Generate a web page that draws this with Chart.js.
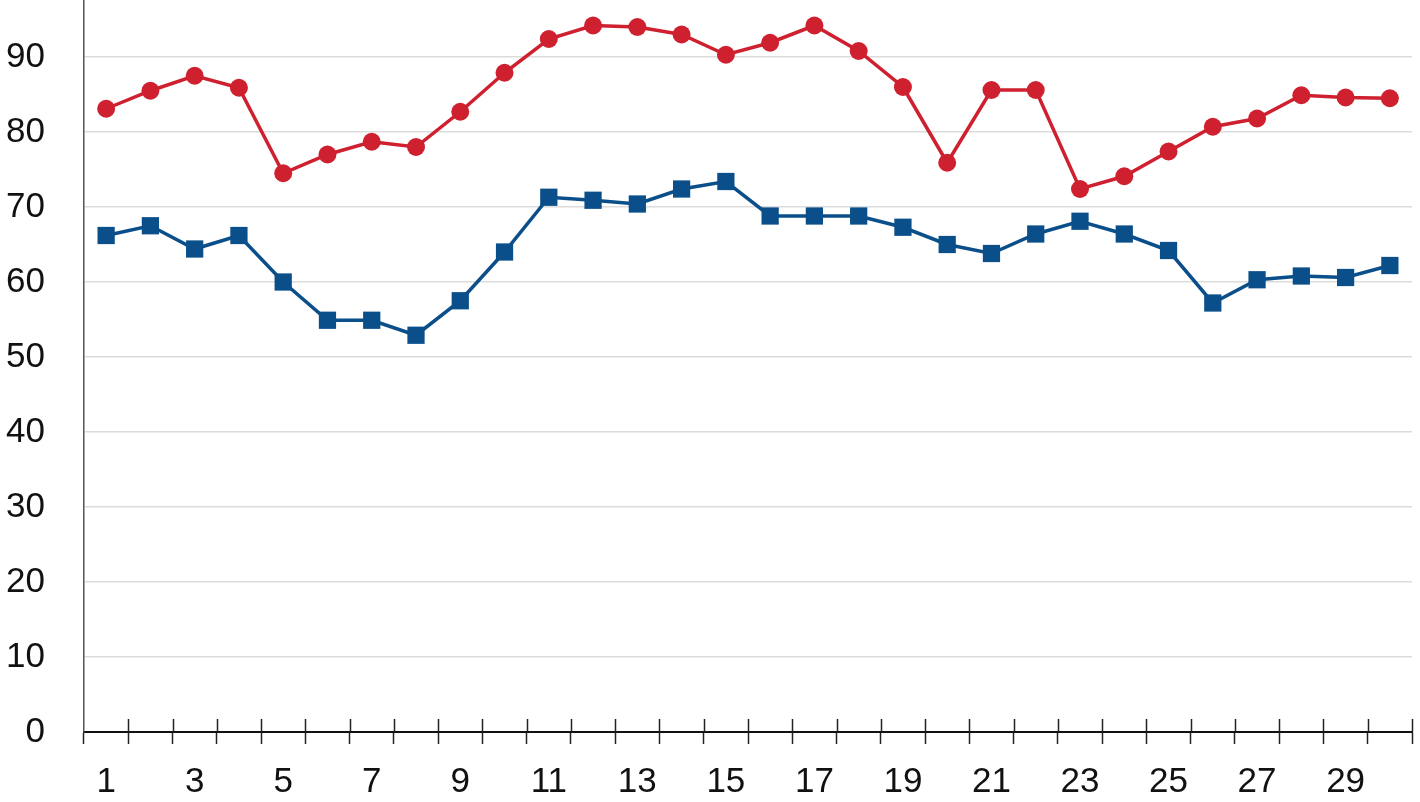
<!DOCTYPE html>
<html>
<head>
<meta charset="utf-8">
<script src="https://cdn.jsdelivr.net/npm/chart.js@4/dist/chart.umd.min.js"></script>
<style>
  html, body { margin: 0; padding: 0; background: #fff; }
  #wrap { width: 1420px; height: 802px; }
</style>
</head>
<body>
<div id="wrap"><canvas id="chart-area"></canvas></div>
<script>
var days = [1, 2, 3, 4, 5, 6, 7, 8, 9, 10, 11, 12, 13, 14, 15,
            16, 17, 18, 19, 20, 21, 22, 23, 24, 25, 26, 27, 28, 29, 30];

var redSeries = [83.1, 85.5, 87.5, 85.9, 74.5, 77.0, 78.7, 78.0, 82.7, 87.9,
                 92.4, 94.2, 94.0, 93.0, 90.3, 91.9, 94.2, 90.8, 86.0, 75.9,
                 85.6, 85.6, 72.4, 74.1, 77.4, 80.7, 81.8, 84.9, 84.6, 84.5];

var blueSeries = [66.2, 67.5, 64.4, 66.2, 60.0, 54.9, 54.9, 52.9, 57.5, 64.0,
                  71.3, 70.9, 70.4, 72.4, 73.4, 68.8, 68.8, 68.8, 67.3, 65.0,
                  63.8, 66.4, 68.1, 66.4, 64.2, 57.2, 60.3, 60.8, 60.6, 62.2];

var yTicks = [0, 10, 20, 30, 40, 50, 60, 70, 80, 90];

var RED = '#cf2030';
var BLUE = '#0b4f8a';
var FONT = '"Liberation Sans", Arial, sans-serif';

// tick marks on the x axis cross the axis line, Chart.js only draws the lower half
var crossTicks = {
  id: 'crossTicks',
  afterDraw: function(chart) {
    var x = chart.scales.x;
    var ctx = chart.ctx;
    var n = days.length;
    var y0 = x.top;
    ctx.save();
    ctx.strokeStyle = '#222';
    ctx.lineWidth = 1.5;
    ctx.beginPath();
    for (var i = 1; i <= n; i++) {
      var px = i < n ? (x.getPixelForTick(i - 1) + x.getPixelForTick(i)) / 2 : x.right;
      px = Math.round(px) + 0.5;
      ctx.moveTo(px, y0);
      ctx.lineTo(px, y0 - 13);
    }
    ctx.stroke();
    ctx.restore();
  }
};

var config = {
  type: 'line',
  data: {
    labels: days,
    datasets: [{
      label: 'red',
      data: redSeries,
      borderColor: RED,
      backgroundColor: RED,
      borderWidth: 3.5,
      pointStyle: 'circle',
      pointRadius: 9,
      pointBorderWidth: 0,
      tension: 0,
      clip: false
    }, {
      label: 'blue',
      data: blueSeries,
      borderColor: BLUE,
      backgroundColor: BLUE,
      borderWidth: 3.5,
      pointStyle: 'rect',
      pointRadius: 12.2,
      pointBorderWidth: 0,
      tension: 0,
      clip: false
    }]
  },
  options: {
    responsive: true,
    maintainAspectRatio: false,
    animation: false,
    layout: { autoPadding: false, padding: { left: 0, right: 8, top: 0, bottom: 0 } },
    plugins: {
      legend: { display: false },
      tooltip: { enabled: false },
      title: { display: false }
    },
    scales: {
      x: {
        offset: true,
        grid: {
          offset: true,
          drawOnChartArea: false,
          drawTicks: true,
          tickLength: 12,
          tickWidth: 1.5,
          tickColor: '#222'
        },
        border: { color: '#111', width: 2 },
        ticks: {
          autoSkip: false,
          maxRotation: 0,
          padding: 17,
          color: '#111',
          font: { family: FONT, size: 35 },
          callback: function(val, i) {
            return i % 2 === 0 ? this.getLabelForValue(val) : '';
          }
        },
        afterFit: function(scale) {
          scale.height = 70;
          scale.paddingLeft = 0;
          scale.paddingRight = 0;
        }
      },
      y: {
        min: 0,
        max: 97.6,
        grid: {
          color: '#dcdcdc',
          lineWidth: 1.5,
          drawTicks: false
        },
        border: { color: '#555', width: 1.5 },
        ticks: {
          padding: 39,
          color: '#111',
          font: { family: FONT, size: 35 }
        },
        afterBuildTicks: function(scale) {
          scale.ticks = yTicks.map(function(v) { return { value: v }; });
        },
        afterFit: function(scale) {
          scale.width = 84;
          scale.paddingTop = 0;
          scale.paddingBottom = 0;
        }
      }
    }
  },
  plugins: [crossTicks]
};

window.onload = function() {
  var ctx = document.getElementById('chart-area').getContext('2d');
  window.myLine = new Chart(ctx, config);
};
</script>
</body>
</html>
